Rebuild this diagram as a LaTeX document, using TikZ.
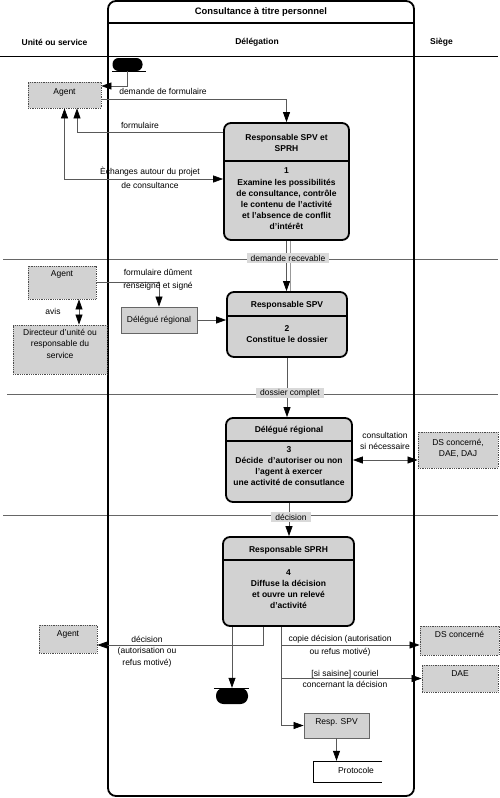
\documentclass[tikz,border=0pt]{standalone}
\usepackage{fontspec}
\setmainfont{Liberation Sans}
\usetikzlibrary{arrows.meta,positioning}
\tikzset{
  act/.style={draw, line width=1.8pt, rounded corners=7pt, fill=gray!35, inner sep=0pt},
  ext/.style={draw=black!70, densely dotted, line width=0.8pt, fill=gray!35, inner sep=0pt},
  role/.style={draw=black!60, line width=0.8pt, fill=gray!35, inner sep=0pt},
  term/.style={fill=black, rounded corners=6pt, minimum width=30pt, minimum height=13pt, inner sep=0pt},
  flow/.style={draw=black!65, line width=0.7pt},
  tag/.style={fill=gray!30, inner xsep=4pt, inner ysep=1.5pt, font=\fontsize{8.5}{10}\selectfont},
  txt/.style={font=\fontsize{8.5}{11.5}\selectfont, align=center, inner sep=0pt},
  btxt/.style={font=\fontsize{8.5}{11.2}\selectfont\bfseries, align=center, inner sep=0pt},
  lane/.style={draw=black!60, line width=0.6pt}
}
\begin{document}
\begin{tikzpicture}[x=1pt, y=-1pt, >={Triangle[length=10pt,width=7pt,color=black]}]
\useasboundingbox (0,0) rectangle (500,798);
% lanes
\draw[line width=0.6pt] (0,56) -- (498,56);
\draw[lane] (3,259) -- (498,259);
\draw[lane] (7,394) -- (498,394);
\draw[lane] (3,515) -- (498,515);
\draw[line width=1.8pt, rounded corners=8pt] (108,1) rectangle (414,796);
\draw[line width=1.5pt] (108,23) -- (414,23);
\node[btxt, font=\fontsize{9.4}{11}\selectfont\bfseries] (titre) at (261,12) {Consultance à titre personnel};
\node[btxt] (unite) at (54.5,42) {Unité ou service};
\node[btxt] (deleg) at (257,42) {Délégation};
\node[btxt] (siege) at (441.5,42) {Siège};

% activites
\node[act, minimum width=125pt, minimum height=117pt] (a1) at (286.5,181.5) {};
\draw[line width=1.8pt] (a1.west |- 0,161) -- (a1.east |- 0,161);
\node[btxt] (a1h) at (286.5,143) {Responsable SPV et\\SPRH};
\node[btxt] (a1b) at (286.5,199) {1\\Examine les possibilités\\de consultance, contrôle\\le contenu de l'activité\\et l'absence de conflit\\d'intérêt};

\node[act, minimum width=120pt, minimum height=65pt] (a2) at (287,324.5) {};
\draw[line width=1.8pt] (a2.west |- 0,316) -- (a2.east |- 0,316);
\node[btxt] (a2h) at (287,305) {Responsable SPV};
\node[btxt] (a2b) at (287,334) {2\\Constitue le dossier};

\node[act, minimum width=126pt, minimum height=84pt] (a3) at (289,460) {};
\draw[line width=1.8pt] (a3.west |- 0,441) -- (a3.east |- 0,441);
\node[btxt] (a3h) at (289,430) {Délégué régional};
\node[btxt] (a3b) at (289,466) {3\\Décide~ d'autoriser ou non\\l'agent à exercer\\une activité de consutlance};

\node[act, minimum width=131pt, minimum height=89pt] (a4) at (288.5,581.5) {};
\draw[line width=1.8pt] (a4.west |- 0,560) -- (a4.east |- 0,560);
\node[btxt] (a4h) at (288.5,550) {Responsable SPRH};
\node[btxt] (a4b) at (288.5,589) {4\\Diffuse la décision\\et ouvre un relevé\\d'activité};

% acteurs externes
\node[ext, minimum width=73pt, minimum height=26pt] (ag1) at (64.5,95) {};
\node[txt, below=7pt of ag1.north] (ag1t) {Agent};
\node[ext, minimum width=68pt, minimum height=33pt] (ag2) at (62,282.5) {};
\node[txt, below=5pt of ag2.north] (ag2t) {Agent};
\node[ext, minimum width=94pt, minimum height=49pt] (dir) at (60,349.5) {};
\node[txt, below=4pt of dir.north] (dirt) {Directeur d'unité ou\\responsable du\\service};
\node[ext, minimum width=58pt, minimum height=28pt] (ag3) at (68,639) {};
\node[txt, below=6pt of ag3.north] (ag3t) {Agent};
\node[ext, minimum width=80pt, minimum height=36pt] (ds1) at (458,450) {};
\node[txt, below=7pt of ds1.north] (ds1t) {DS concerné,\\DAE, DAJ};
\node[ext, minimum width=79pt, minimum height=29pt] (ds2) at (459.5,640.5) {};
\node[txt, below=5pt of ds2.north] (ds2t) {DS concerné};
\node[ext, minimum width=76pt, minimum height=27pt] (dae) at (460,678.5) {};
\node[txt, below=6pt of dae.north] (daet) {DAE};
\node[role, txt, minimum width=76pt, minimum height=26pt] (dr) at (159,320) {Délégué régional};
\node[role, minimum width=65pt, minimum height=25pt] (rs) at (336.5,725.5) {};
\node[txt, below=6pt of rs.north] (rst) {Resp. SPV};
\node[minimum width=69pt, minimum height=21pt, inner sep=0pt] (pr) at (347.5,771.5) {};
\draw[line width=0.6pt] (pr.north east) -- (pr.north west) -- (pr.south west) -- (pr.south east);
\node[txt] (prt) at (356,770) {Protocole};

% debut et fin
\node[term] (st) at (127.5,64.5) {};
\draw[line width=0.6pt] (st.south west) -- ([xshift=3pt]st.south east);
\node[term, minimum width=32pt, minimum height=16pt, rounded corners=7.5pt] (en) at (232,696) {};
\draw[line width=0.6pt] ([xshift=-2pt]en.north west) -- ([xshift=1pt]en.north east);

% flux
\draw[flow,->] (st.south) |- ([yshift=9pt]ag1.east);
\draw[flow,->] ([yshift=-4pt]ag1.east) -| (a1.north);
\node[txt] (l1) at (163,91) {demande de formulaire};
\draw[flow,->] (a1.west |- 0,132) -| ([xshift=12.5pt]ag1.south);
\node[txt] (l2) at (140,125) {formulaire};
\draw[flow,<->] (ag1.south) |- (a1.west |- 0,179);
\node[txt, font=\fontsize{8.5}{14}\selectfont] (l3) at (150,178) {Èchanges autour du projet\\de consultance};
\draw[flow,->] (a1.south) -- (a1.south |- a2.north);
\draw[draw=black!40, line width=0.6pt] ([xshift=4pt]a1.south) -- ([xshift=3.5pt]a2.north);
\node[tag] (l4) at (288,258) {demande recevable};
\draw[flow,->] (ag2.east) -| (dr.north);
\node[txt, font=\fontsize{8.5}{13}\selectfont] (l5) at (158,279.5) {formulaire dûment\\renseigné et signé};
\draw[flow,->] (dr.east) -- (dr.east -| a2.west);
\draw[flow,<->] ([xshift=17pt]ag2.south) -- ([xshift=19pt]dir.north);
\node[txt] (l6) at (53,311) {avis};
\draw[flow,->] (a2.south) -- (a2.south |- a3.north);
\node[tag] (l7) at (290,393) {dossier complet};
\draw[flow,<->] (a3.east) -- (a3.east -| ds1.west);
\node[txt] (l8) at (385,441) {consultation\\si nécessaire};
\draw[flow,->] (a3.south) -- (a3.south |- a4.north);
\node[tag] (l9) at (291,517) {décision};
\draw[flow,->] ([xshift=-25.5pt]a4.south) |- ([yshift=-6pt]ag3.east);
\node[txt] (l10) at (147,651.5) {décision\\(autorisation ou\\refus motivé)};
\draw[flow,->] ([xshift=-56.5pt]a4.south) -- (en.north);
\coordinate (br) at ([xshift=-7.5pt]a4.south);
\draw[flow,->] (br) |- (rs.west);
\draw[flow,->] (br) |- ([yshift=-4.5pt]ds2.west);
\node[txt, font=\fontsize{8.5}{13}\selectfont] (l11) at (340,645.5) {copie décision (autorisation\\ou refus motivé)};
\draw[flow,->] (br) |- (dae.west);
\node[txt] (l12) at (345,679) {[si saisine] couriel\\concernant la décision};
\draw[flow,->] (rs.south) -- (rs.south |- pr.north);
\end{tikzpicture}
\end{document}
